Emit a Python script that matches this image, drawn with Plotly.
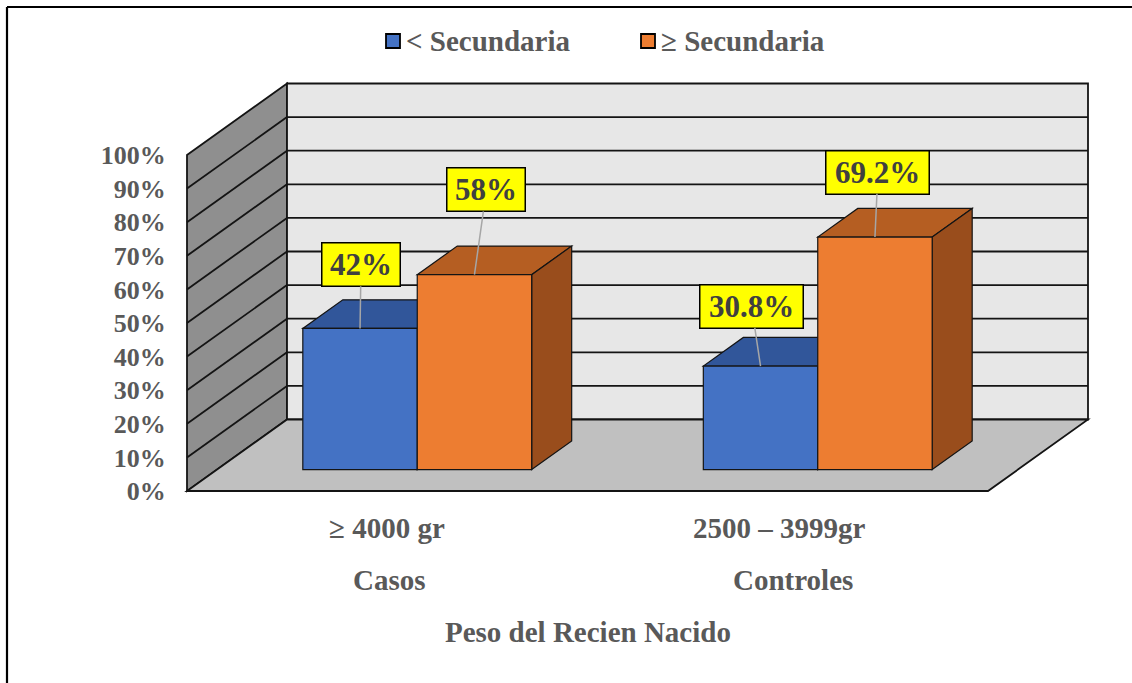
import plotly.graph_objects as go

# ---- data -------------------------------------------------------------
categories = ["≥ 4000 gr", "2500 – 3999gr"]
groups = ["Casos", "Controles"]
series_names = ["< Secundaria", "≥ Secundaria"]
menor_secundaria = [42, 30.8]
mayor_secundaria = [58, 69.2]
y_ticks = [0, 10, 20, 30, 40, 50, 60, 70, 80, 90, 100]
axis_title = "Peso del Recien Nacido"

# ---- style -------------------------------------------------------------
FONT = "Liberation Serif"
GRAY_TXT = "#595959"
FACE = {
    "< Secundaria": {"front": "#4472C4", "top": "#31569A", "side": "#2C4E8C"},
    "≥ Secundaria": {"front": "#ED7D31", "top": "#B55E22", "side": "#994D1C"},
}
WALL_BACK = "#E7E7E7"
WALL_SIDE = "#8F8F8F"
FLOOR = "#C0C0C0"
EDGE = "#141414"

# figure / plot-area geometry (pixels)
W, H = 1132, 683
SLOT_PX = 400.5        # width of one category slot on the front plane
PCT_PX = 3.36          # pixels per percentage point
ORIGIN_X, ORIGIN_Y = 187, 491   # front-left corner of the floor
ML, MR, MT, MB = 173, 30, 60, 186
PLOT_W = W - ML - MR
PLOT_H = H - MT - MB

X_RANGE = [(ML - ORIGIN_X) / SLOT_PX, (W - MR - ORIGIN_X) / SLOT_PX]
Y_RANGE = [(ORIGIN_Y - (H - MB)) / PCT_PX, (ORIGIN_Y - MT) / PCT_PX]

# oblique depth offset of the full floor depth, in axis units
DEPTH_DX = 100 / SLOT_PX
DEPTH_DY = 71.5 / PCT_PX
BAR_D0, BAR_D1 = 0.3, 0.7        # bars sit in the middle of the depth
GAP_WIDTH = 1.5                  # gap between groups relative to bar width
BAR_W = 1 / (len(series_names) + GAP_WIDTH)

N = len(categories)
VMAX = y_ticks[-1]


def proj(x, v, d):
    return x + d * DEPTH_DX, v + d * DEPTH_DY


def poly(points):
    pts = [proj(*p) for p in points]
    path = "M " + " L ".join(f"{x:.5f},{y:.5f}" for x, y in pts) + " Z"
    return path


def face(points, fill, lw=1.2, lc=EDGE):
    return dict(type="path", xref="x", yref="y", path=poly(points),
                fillcolor=fill, line=dict(color=lc, width=lw), layer="above")


def seg(p, q, color=EDGE, width=1.8):
    (x0, y0), (x1, y1) = proj(*p), proj(*q)
    return dict(type="line", xref="x", yref="y", x0=x0, y0=y0, x1=x1, y1=y1,
                line=dict(color=color, width=width), layer="above")


def paper_x(px):
    return (px - ML) / PLOT_W


def paper_y(py):
    return ((H - MB) - py) / PLOT_H


shapes = []

# walls and floor
shapes.append(face([(0, 0, 0), (0, 0, 1), (0, VMAX, 1), (0, VMAX, 0)], WALL_SIDE, 1.8))
shapes.append(face([(0, 0, 1), (N, 0, 1), (N, VMAX, 1), (0, VMAX, 1)], WALL_BACK, 1.8))
shapes.append(face([(0, 0, 0), (N, 0, 0), (N, 0, 1), (0, 0, 1)], FLOOR, 1.8))

# gridlines on the back wall and the side wall
for v in y_ticks[1:-1]:
    shapes.append(seg((0, v, 1), (N, v, 1)))
    shapes.append(seg((0, v, 0), (0, v, 1)))

# 3-D bars
series_values = [menor_secundaria, mayor_secundaria]
label_points = []
for i in range(N):
    for s, name in enumerate(series_names):
        v = series_values[s][i]
        x0 = i + 0.5 - BAR_W * len(series_names) / 2 + s * BAR_W
        x1 = x0 + BAR_W
        c = FACE[name]
        shapes.append(face([(x0, v, BAR_D0), (x1, v, BAR_D0), (x1, v, BAR_D1), (x0, v, BAR_D1)], c["top"]))
        shapes.append(face([(x1, 0, BAR_D0), (x1, 0, BAR_D1), (x1, v, BAR_D1), (x1, v, BAR_D0)], c["side"]))
        shapes.append(face([(x0, 0, BAR_D0), (x1, 0, BAR_D0), (x1, v, BAR_D0), (x0, v, BAR_D0)], c["front"]))
        label_points.append((proj((x0 + x1) / 2, v, BAR_D0), v, name))

fig = go.Figure()

# anchor trace at the top-front centre of every bar (hover values)
fig.add_trace(go.Scatter(
    x=[p[0][0] for p in label_points], y=[p[0][1] for p in label_points],
    mode="markers", marker=dict(size=1, color="rgba(0,0,0,0)"),
    text=[f"{p[2]}: {p[1]:g}%" for p in label_points], hoverinfo="text",
    showlegend=False))

annotations = []

# value labels: yellow boxes with leader lines
label_offsets = [(1, -64), (12, -85), (-9, -60), (3, -65)]
for ((px, py), v, name), (ox, oy) in zip(label_points, label_offsets):
    txt = f"{v:g}%"
    annotations.append(dict(
        x=px, y=py, xref="x", yref="y", text=txt,
        showarrow=True, arrowhead=0, arrowwidth=1.5, arrowcolor="#A6A6A6",
        ax=ox, ay=oy, standoff=0,
        font=dict(family=FONT, size=31, color="#404040", weight="bold"),
        bgcolor="#FFFF00", bordercolor="#000000", borderwidth=1.5, borderpad=3,
        width=round(12.5 * len(txt) + 33.5), height=36))

# category labels (two lines) and axis title
cat_shift = [(0, 2), (-8, 5)]
label_font = dict(family=FONT, size=29, color=GRAY_TXT, weight="bold")
for i, (cat, grp) in enumerate(zip(categories, groups)):
    annotations.append(dict(x=i + 0.5, y=paper_y(528), xref="x", yref="paper",
                            yanchor="middle", text=cat, showarrow=False,
                            xshift=cat_shift[i][0], font=label_font))
    annotations.append(dict(x=i + 0.5, y=paper_y(580), xref="x", yref="paper",
                            yanchor="middle", text=grp, showarrow=False,
                            xshift=cat_shift[i][1], font=label_font))
annotations.append(dict(x=N / 2, y=paper_y(632), xref="x", yref="paper",
                        yanchor="middle", text=axis_title, showarrow=False,
                        font=label_font))

# legend: colour keys with labels
legend_x = [386, 641]
for name, lx in zip(series_names, legend_x):
    shapes.append(dict(type="rect", xref="paper", yref="paper",
                       x0=paper_x(lx), x1=paper_x(lx + 14),
                       y0=paper_y(48), y1=paper_y(34),
                       fillcolor=FACE[name]["front"], line=dict(color="#000000", width=1.8)))
    annotations.append(dict(x=paper_x(lx + 18), y=paper_y(41), xref="paper", yref="paper",
                            xanchor="left", yanchor="middle", text=name, showarrow=False,
                            font=label_font))

# chart frame (left and top edges)
shapes.append(dict(type="line", xref="paper", yref="paper",
                   x0=paper_x(7), x1=paper_x(W + 5), y0=paper_y(7), y1=paper_y(7),
                   line=dict(color="#000000", width=2.2)))
shapes.append(dict(type="line", xref="paper", yref="paper",
                   x0=paper_x(7), x1=paper_x(7), y0=paper_y(7), y1=paper_y(H + 5),
                   line=dict(color="#000000", width=2.2)))

fig.update_layout(
    width=W, height=H,
    margin=dict(l=ML, r=MR, t=MT, b=MB, autoexpand=False),
    paper_bgcolor="white", plot_bgcolor="rgba(0,0,0,0)",
    showlegend=False,
    shapes=shapes, annotations=annotations,
    xaxis=dict(range=X_RANGE, visible=False, fixedrange=True),
    yaxis=dict(range=Y_RANGE, showgrid=False, zeroline=False, showline=False,
               tickmode="array", tickvals=y_ticks,
               ticktext=[f"{t}%" for t in y_ticks],
               ticks="outside", ticklen=1, tickcolor="rgba(0,0,0,0)",
               tickfont=dict(family=FONT, size=26, color=GRAY_TXT, weight="bold"),
               fixedrange=True),
)

fig.write_html("out.html")
